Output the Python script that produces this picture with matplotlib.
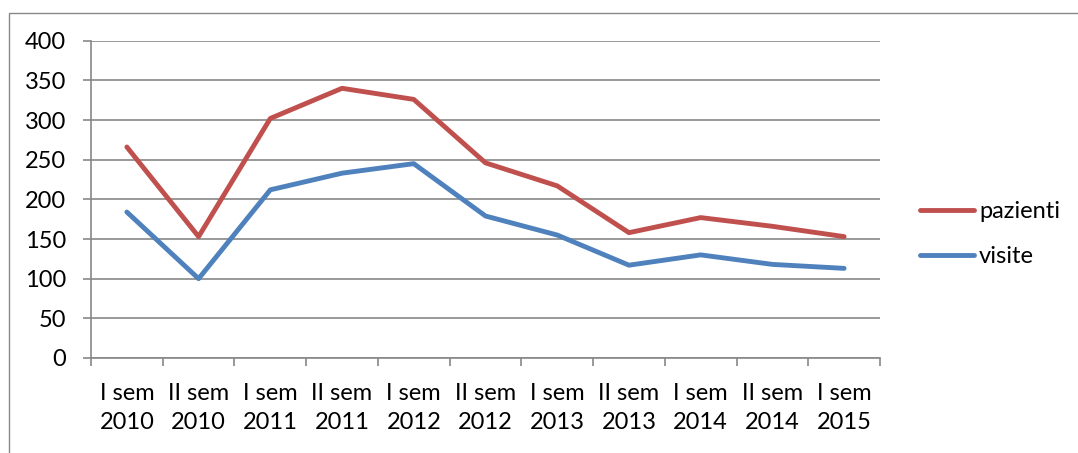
import matplotlib
matplotlib.use('Agg')
import matplotlib.pyplot as plt
import numpy as np
from matplotlib.patches import Rectangle
from matplotlib.ticker import FixedLocator

plt.rcParams['font.family'] = ['Lato', 'DejaVu Sans']

# data
categories = ['I sem\n2010', 'II sem\n2010', 'I sem\n2011', 'II sem\n2011',
              'I sem\n2012', 'II sem\n2012', 'I sem\n2013', 'II sem\n2013',
              'I sem\n2014', 'II sem\n2014', 'I sem\n2015']
pazienti = [266, 153, 302, 340, 326, 246, 217, 158, 177, 166, 153]
visite = [184, 100, 212, 233, 245, 179, 155, 117, 130, 118, 113]
yticks = [0, 50, 100, 150, 200, 250, 300, 350, 400]

RED = '#C0504D'
BLUE = '#4F81BD'
GRID = '#888888'
FS = 17


def graph():
    fig = plt.figure(figsize=(10.78, 4.53), dpi=100)
    ax = fig.add_axes([91/1078, 1 - 358/453, (880 - 91)/1078, (358 - 40.7)/453])

    x = np.arange(len(categories))
    ax.plot(x, pazienti, color=RED, lw=3.5, solid_capstyle='round',
            solid_joinstyle='round', label='pazienti', zorder=3)
    ax.plot(x, visite, color=BLUE, lw=3.5, solid_capstyle='round',
            solid_joinstyle='round', label='visite', zorder=3)

    ax.set_xlim(-0.5, len(categories) - 0.5)
    ax.set_ylim(0, 400)
    ax.set_yticks(yticks)
    ax.set_yticklabels([str(v) for v in yticks], fontsize=FS)
    ax.set_xticks(x)
    ax.set_xticklabels(categories, fontsize=FS, linespacing=1.45)
    ax.xaxis.set_minor_locator(FixedLocator(np.arange(len(categories) + 1) - 0.5))

    ax.yaxis.grid(True, color=GRID, lw=1.2)
    ax.set_axisbelow(True)
    for s in ['top', 'right']:
        ax.spines[s].set_visible(False)
    for s in ['left', 'bottom']:
        ax.spines[s].set_color(GRID)
        ax.spines[s].set_linewidth(1.2)

    ax.tick_params(axis='y', length=6, width=1.2, color=GRID, pad=12)
    ax.tick_params(axis='x', which='major', length=0, pad=18)
    ax.tick_params(axis='x', which='minor', length=6, width=1.2, color=GRID)

    ax.legend(loc='center left', bbox_to_anchor=(920/1078, 1 - 234/453),
              bbox_transform=fig.transFigure, frameon=False, fontsize=FS,
              handlelength=2.3, handletextpad=0.2, labelspacing=1.0,
              borderpad=0, borderaxespad=0)

    fig.patches.append(Rectangle((8.5/1078, -0.1), 1.2, 1.1 - 12.5/453,
                                 transform=fig.transFigure, fill=False,
                                 edgecolor=GRID, lw=1.0, clip_on=False))

    plt.savefig('out.png', dpi=100)


if __name__ == '__main__':
    graph()
